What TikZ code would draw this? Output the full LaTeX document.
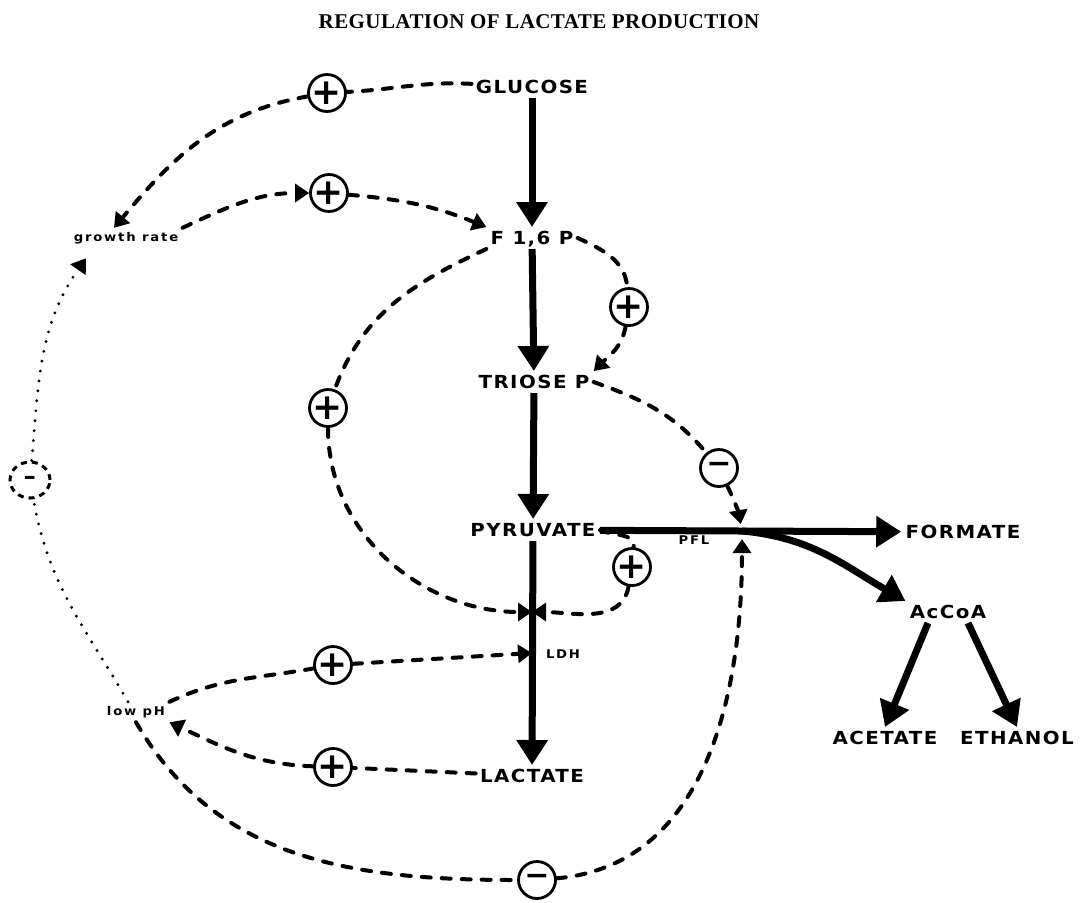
\documentclass[tikz,border=0pt]{standalone}
\usepackage{fontspec}
\usetikzlibrary{arrows.meta,shapes.geometric}
\newfontfamily\labfont{DejaVu Sans}[FakeStretch=1.1,LetterSpace=8]
\newfontfamily\tinyfont{DejaVu Sans}[FakeStretch=1.1,LetterSpace=15]
\newfontfamily\signfont{DejaVu Sans}
\newfontfamily\titlefont{Liberation Serif}[LetterSpace=2]

\begin{document}
\begin{tikzpicture}[x=0.5pt,y=-0.5pt,
  lab/.style={font=\labfont\bfseries\fontsize{9}{10}\selectfont,inner sep=2pt,text height=6.6pt,text depth=0pt},
  tiny/.style={font=\tinyfont\bfseries\fontsize{6}{7}\selectfont,inner sep=2pt,text height=4.6pt,text depth=1.2pt},
  sign/.style={circle,draw,line width=1.4pt,minimum size=18.5pt,inner sep=0pt,font=\signfont\bfseries\fontsize{18}{18}\selectfont},
  flux/.style={line width=3.5pt,-{Triangle[length=12.5pt,width=15pt]}},
  regl/.style={line width=2pt,line cap=round,dash pattern=on 4.5pt off 5.5pt},
  reg/.style={regl,-{Triangle[length=7pt,width=9pt]}},
  dotl/.style={line width=1.6pt,line cap=round,dash pattern=on 0pt off 5pt}]
  \useasboundingbox (0,0) rectangle (1081,902);
  \node[font=\titlefont\bfseries\fontsize{10.5}{12}\selectfont] (title) at (539,22) {REGULATION OF LACTATE PRODUCTION};
  \node[lab] (glucose) at (532,87) {GLUCOSE};
  \node[lab] (f16p) at (532,238) {F 1,6 P};
  \node[lab] (triose) at (534,382) {TRIOSE P};
  \node[lab] (pyruvate) at (533,530) {PYRUVATE};
  \node[lab] (lactate) at (532,776) {LACTATE};
  \node[lab] (formate) at (963,532) {FORMATE};
  \node[lab] (accoa) at (948,612) {AcCoA};
  \node[lab] (acetate) at (885,738) {ACETATE};
  \node[lab] (ethanol) at (1017,738) {ETHANOL};
  \node[tiny] (growth) at (126,238) {growth rate};
  \node[tiny] (lowph) at (136,712) {low pH};
  \node[tiny] (ldh) at (563,655) {LDH};
  \node[tiny] (pfl) at (694,541) {PFL};
  \coordinate (ldhA) at (532,612);
  \coordinate (ldhB) at (532,653);
  \coordinate (pflJ) at (742,531);
  \foreach \n/\x/\y in {p1/327/93,p2/329/193,p3/629/307,p4/328/408,p5/632/567,p6/333/665,p7/333/767}
    \node[sign] (\n) at (\x,\y) {\makebox[0pt]{+}};
  \foreach \n/\x/\y in {m1/719/468,m2/537/880}
    \node[sign] (\n) at (\x,\y) {\makebox[0pt]{\fontsize{15}{15}\selectfont −}};
  \node[draw,ellipse,line width=1.5pt,dash pattern=on 3pt off 2.5pt,minimum width=20pt,minimum height=18pt,inner sep=0pt,
    font=\signfont\bfseries\fontsize{12}{12}\selectfont] (m3) at (30,480) {\makebox[0pt]{–}};

  \draw[flux] (glucose) -- (f16p);
  \draw[flux] (f16p) -- (triose);
  \draw[flux] (triose) -- (pyruvate);
  \draw[flux] (pyruvate) -- (lactate);
  \draw[flux] (pyruvate) -- (pflJ) -- (formate);
  \draw[flux] (pflJ) to[out=-5,in=150] (accoa.north west);
  \draw[flux] ([xshift=-10pt]accoa.south) -- (acetate.north);
  \draw[flux] ([xshift=10pt]accoa.south) -- (ethanol.north);

  \draw[regl] (glucose) to[out=177,in=3] (p1);
  \draw[reg] (p1) to[out=190,in=50] ([xshift=-6pt]growth.north);
  \draw[reg] (growth.north east) to[out=25,in=180] (p2);
  \draw[reg] (p2) to[out=-5,in=158] (f16p.north west);
  \draw[regl] (f16p.east) to[out=-25,in=95] (p3);
  \draw[reg] (p3) to[out=-100,in=45] (triose.north east);
  \draw[regl] (f16p.south west) to[out=205,in=70] (p4);
  \draw[reg] (p4) to[out=-90,in=180] (ldhA);
  \draw[regl] (triose.east) to[out=-20,in=130] (m1);
  \draw[reg,shorten >=3.5pt] (m1) to[out=-65,in=100] (pflJ);
  \draw[regl] (pyruvate.east) to[out=-25,in=85] (p5);
  \draw[reg] (p5) to[out=-100,in=0] (ldhA);
  \draw[regl] (lowph.north east) to[out=25,in=190] (p6);
  \draw[reg] (p6) -- (ldhB);
  \draw[regl] (lactate) -- (p7);
  \draw[reg] (p7) to[out=178,in=-25] (lowph.south east);
  \draw[regl] (lowph.south) to[out=-60,in=180] (m2);
  \draw[reg,shorten >=4pt] (m2) to[out=5,in=-90] (pflJ);
  \draw[dotl] ([xshift=-4pt]lowph.north) to[out=120,in=-80] (m3);
  \draw[dotl,-{Triangle[length=7pt,width=9pt]}] (m3) to[out=85,in=-125] ([xshift=-20pt,yshift=-5pt]growth.south);
\end{tikzpicture}
\end{document}
